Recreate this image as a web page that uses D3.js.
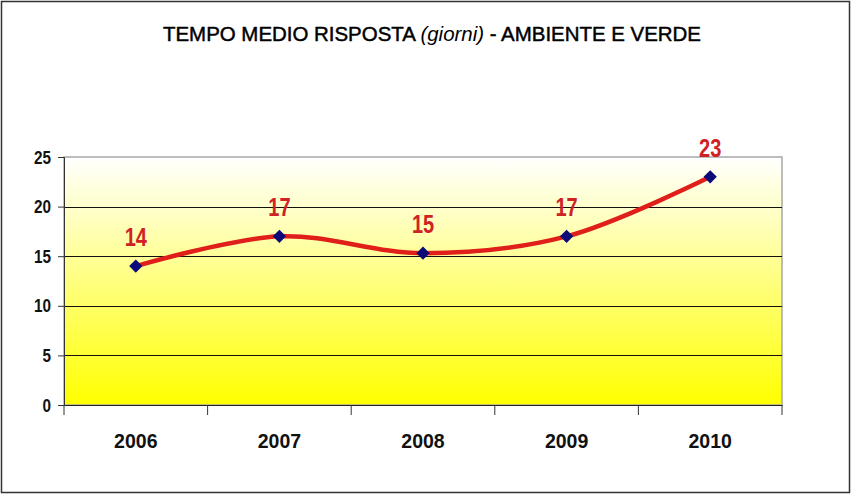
<!DOCTYPE html>
<html><head><meta charset="utf-8">
<script src="https://cdn.jsdelivr.net/npm/d3@7"></script>
<style>body{margin:0;background:#fff}svg{display:block}</style>
</head><body>
<svg id="c" width="852" height="496"></svg>
<script>
const years = ["2006","2007","2008","2009","2010"];
const values = [14, 17, 15.3, 17, 23];
const labels = ["14","17","15","17","23"];
const yTicks = [0,5,10,15,20,25];

const svg = d3.select("#c");
const W = 852, H = 496;
const m = {l:64, r:782, t:157, b:405};
const font = "'Liberation Sans',Arial,sans-serif";

svg.append("rect").attr("x",1.5).attr("y",1.5).attr("width",W-4).attr("height",H-5)
  .attr("fill","#fff").attr("stroke","#333").attr("stroke-width",1.5);

const defs = svg.append("defs");
const g = defs.append("linearGradient").attr("id","bg").attr("x1",0).attr("y1",0).attr("x2",0).attr("y2",1);
g.append("stop").attr("offset","0%").attr("stop-color","#ffffff");
g.append("stop").attr("offset","100%").attr("stop-color","#ffff00");

const x = d3.scaleBand().domain(years).range([m.l, m.r]);
const y = d3.scaleLinear().domain([0,25]).range([m.b, m.t]);

svg.append("rect").attr("x",m.l).attr("y",m.t).attr("width",m.r-m.l).attr("height",m.b-m.t)
  .attr("fill","url(#bg)").attr("stroke","#a8a8a8").attr("stroke-width",1.5);

// gridlines
svg.append("g").selectAll("line").data(yTicks.filter(d=>d>0 && d<25)).join("line")
  .attr("x1",m.l).attr("x2",m.r).attr("y1",d=>Math.round(y(d))+0.5).attr("y2",d=>Math.round(y(d))+0.5)
  .attr("stroke","#111").attr("stroke-width",1);

// y axis
const ya = svg.append("g").attr("transform",`translate(${m.l},0)`)
  .call(d3.axisLeft(y).tickValues(yTicks).tickSize(6).tickPadding(0));
ya.select(".domain").attr("stroke","#333");
ya.selectAll(".tick line").attr("stroke","#333");
ya.selectAll(".tick text").attr("x",0).attr("dy",null).attr("y",6)
  .attr("transform","translate(-13,0) scale(0.85,1)")
  .attr("font-family",font).attr("font-weight","bold").attr("font-size",18).attr("fill","#111");

// x axis
const xa = svg.append("g").attr("transform",`translate(0,${m.b})`)
  .call(d3.axisBottom(x).tickSize(0).tickPadding(0));
xa.select(".domain").attr("stroke","#222");
xa.selectAll(".tick text").attr("dy",null).attr("y",0)
  .attr("transform","translate(0,43) scale(0.93,1)")
  .attr("font-family",font).attr("font-weight","bold").attr("font-size",21).attr("fill","#111");
// boundary ticks
const bounds = years.map(d=>x(d)).concat([m.r]);
svg.append("g").selectAll("line").data(bounds).join("line")
  .attr("x1",d=>d).attr("x2",d=>d).attr("y1",m.b).attr("y2",m.b+10)
  .attr("stroke","#333");

// line
const cx = d=>x(d)+x.bandwidth()/2;
const line = d3.line().x((d,i)=>cx(years[i])).y(d=>y(d)).curve(d3.curveCatmullRom.alpha(0.5));
svg.append("path").datum(values).attr("d",line).attr("fill","none")
  .attr("stroke","#e01e1a").attr("stroke-width",4.5).attr("stroke-linecap","round");

// markers
svg.append("g").selectAll("path").data(values).join("path")
  .attr("d",d3.symbol().type(d3.symbolSquare).size(88))
  .attr("transform",(d,i)=>`translate(${cx(years[i])},${y(d)}) rotate(45)`)
  .attr("fill","#0a0a78");

// labels
svg.append("g").selectAll("text").data(values).join("text")
  .attr("x",0).attr("y",0)
  .attr("transform",(d,i)=>`translate(${cx(years[i])},${y(d)-20}) scale(0.8,1)`)
  .attr("text-anchor","middle").attr("font-family",font).attr("font-weight","bold")
  .attr("font-size",25).attr("fill","#d02224").text((d,i)=>labels[i]);

// title
const t = svg.append("text").attr("x",163).attr("y",41)
  .attr("textLength",538).attr("lengthAdjust","spacingAndGlyphs")
  .attr("font-family",font).attr("font-size",20).attr("fill","#000")
  .attr("stroke","#000").attr("stroke-width",0.45);
t.append("tspan").text("TEMPO MEDIO RISPOSTA ");
t.append("tspan").attr("font-style","italic").attr("stroke-width",0).text("(giorni)");
t.append("tspan").text(" - AMBIENTE E VERDE");
</script>
</body></html>
